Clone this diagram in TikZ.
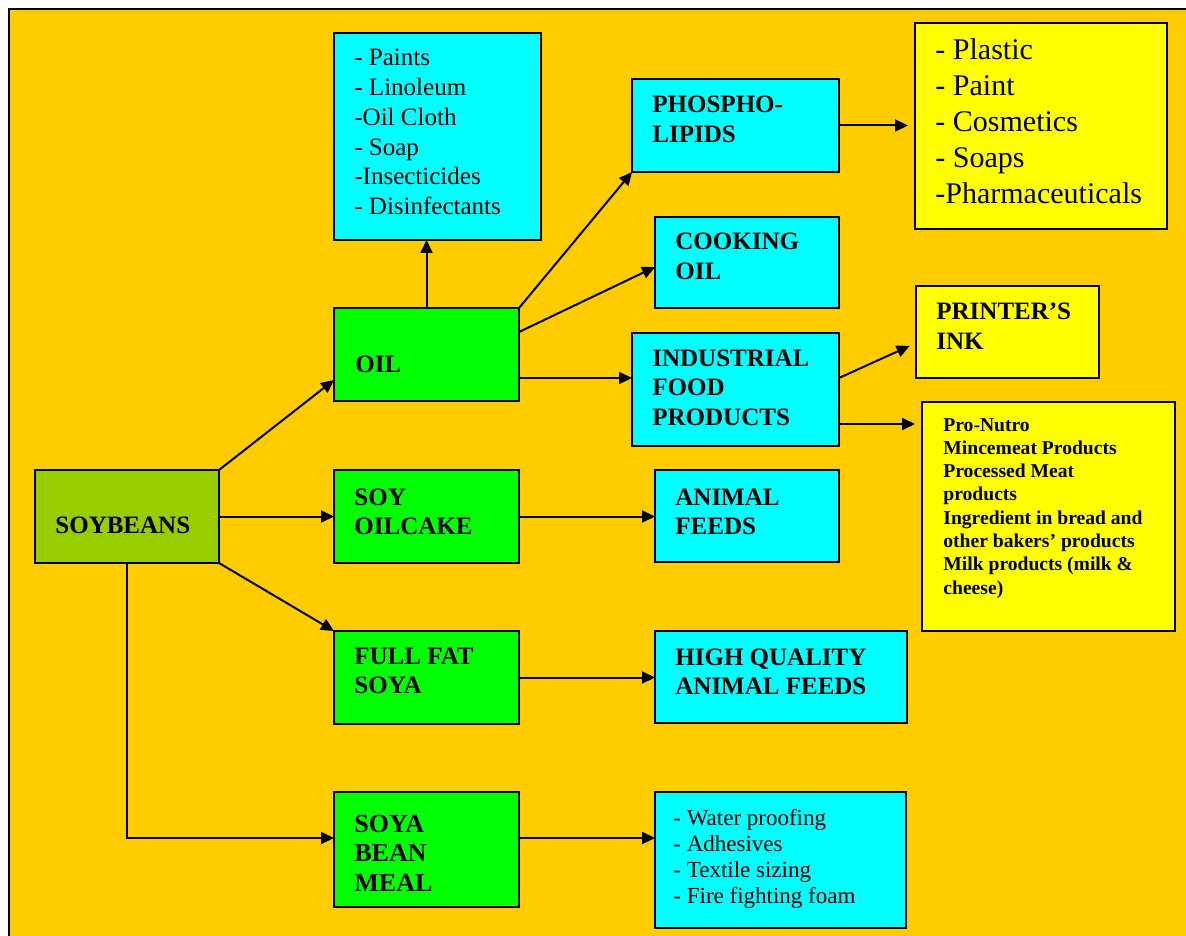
\documentclass[tikz,border=0pt]{standalone}
\usepackage{fontspec}
\setmainfont{Liberation Serif}
\usetikzlibrary{arrows.meta,calc}
\definecolor{orangebg}{HTML}{FFCC00}
\definecolor{boxgreen}{HTML}{00FF00}
\definecolor{boxcyan}{HTML}{00FFFF}
\definecolor{boxyellow}{HTML}{FFFF00}
\definecolor{boxolive}{HTML}{99CC00}
\begin{document}
\begin{tikzpicture}[x=0.5pt,y=-0.5pt,
  box/.style={draw=black,line width=1pt,anchor=north west,inner sep=0pt,outer sep=0pt},
  gbox/.style={box,fill=boxgreen},
  cbox/.style={box,fill=boxcyan},
  ybox/.style={box,fill=boxyellow},
  obox/.style={box,fill=boxolive},
  lbl/.style={anchor=base west,align=left,inner sep=0pt,font=\fontsize{12.5}{14.85}\selectfont\bfseries},
  txt/.style={anchor=base west,align=left,inner sep=0pt,font=\fontsize{12.5}{14.85}\selectfont},
  arr/.style={line width=1pt,-{Triangle[length=6.5pt,width=6pt]}},
  gap/.style={shorten >=3.5pt}
]
\useasboundingbox (0,0) rectangle (1186,935);
\clip (0,0) rectangle (1186,935);
\fill[white] (0,0) rectangle (1186,935);
\fill[orangebg] (9,9) rectangle (1200,950);
\draw[line width=1pt] (9,950) -- (9,9) -- (1200,9);

% boxes
\node[obox,minimum width=92pt,minimum height=46.5pt] (soy) at (35,470) {};
\node[gbox,minimum width=92.5pt,minimum height=46.5pt] (oil) at (334,308) {};
\node[gbox,minimum width=92.5pt,minimum height=46.5pt] (cake) at (334,470) {};
\node[gbox,minimum width=92.5pt,minimum height=46.5pt] (fat) at (334,631) {};
\node[gbox,minimum width=92.5pt,minimum height=57.5pt] (meal) at (334,792) {};
\node[cbox,minimum width=103.5pt,minimum height=103.5pt] (paints) at (334,33) {};
\node[cbox,minimum width=103.5pt,minimum height=46.5pt] (phos) at (632,79) {};
\node[cbox,minimum width=92pt,minimum height=45.5pt] (cook) at (655,217) {};
\node[cbox,minimum width=103.5pt,minimum height=56.5pt] (ind) at (632,333) {};
\node[cbox,minimum width=92pt,minimum height=46pt] (feed) at (655,470) {};
\node[cbox,minimum width=126pt,minimum height=46pt] (hq) at (655,631) {};
\node[cbox,minimum width=125.5pt,minimum height=68pt] (water) at (655,792) {};
\node[ybox,minimum width=126pt,minimum height=103pt] (plastic) at (915,23) {};
\node[ybox,minimum width=91.5pt,minimum height=46pt] (ink) at (916,286) {};
\node[ybox,minimum width=126.5pt,minimum height=114.5pt] (pro) at (922,402) {};

% labels (anchored at the baseline of their last line)
\node[lbl] (tsoy) at (55,533) {SOYBEANS};
\node[lbl] (toil) at (355,372) {OIL};
\node[lbl] (tcake) at (354,534.7) {SOY\\OILCAKE};
\node[lbl] (tfat) at (354,693.7) {FULL FAT\\SOYA};
\node[lbl,font=\fontsize{13}{14.75}\selectfont\bfseries] (tmeal) at (354,891) {SOYA\\BEAN\\MEAL};
\node[txt] (tpaints) at (354,214.5) {- Paints\\- Linoleum\\-Oil Cloth\\- Soap\\-Insecticides\\- Disinfectants};
\node[lbl] (tphos) at (652,142.7) {PHOSPHO-\\LIPIDS};
\node[lbl] (tcook) at (675,279.7) {COOKING\\OIL};
\node[lbl] (tind) at (652,425.4) {INDUSTRIAL\\FOOD\\PRODUCTS};
\node[lbl] (tfeed) at (675,534.7) {ANIMAL\\FEEDS};
\node[lbl] (thq) at (675,694.7) {HIGH QUALITY\\ANIMAL FEEDS};
\node[txt,font=\fontsize{11.5}{13.15}\selectfont] (twater) at (673,903.9) {- Water proofing\\- Adhesives\\- Textile sizing\\- Fire fighting foam};
\node[txt,font=\fontsize{15}{17.9}\selectfont] (tplastic) at (935,203.2) {- Plastic\\- Paint\\- Cosmetics\\- Soaps\\-Pharmaceuticals};
\node[lbl] (tink) at (936,349.7) {PRINTER’S\\INK};
\node[lbl,font=\fontsize{9.8}{11.65}\selectfont\bfseries] (tpro) at (943,594.1) {Pro-Nutro\\Mincemeat Products\\Processed Meat\\products\\Ingredient in bread and\\other bakers’ products\\Milk products (milk \&\\cheese)};

% connectors
\draw[arr] (soy.north east) -- ([yshift=-12.75pt]oil.west);
\draw[arr] (soy.east) -- (cake.west);
\draw[arr] (soy.south east) -- (fat.north west);
\draw[arr] (soy.south) |- ([yshift=5.75pt]meal.west);
\draw[arr] (oil.north) -- (oil.north |- paints.south);
\draw[arr] (oil.north east) -- (phos.south west);
\draw[arr] ([yshift=11.25pt]oil.east) -- ([yshift=-2.25pt]cook.west);
\draw[arr] ([yshift=-11.75pt]oil.east) coordinate (o3) -- (ind.west |- o3);
\draw[arr] (cake.east) -- (cake.east -| feed.west);
\draw[arr] (fat.east) -- (fat.east -| hq.west);
\draw[arr] ([yshift=5.75pt]meal.east) coordinate (m1) -- (water.west |- m1);
\draw[arr,gap] (phos.east) -- (phos.east -| plastic.west);
\draw[arr,gap] ([yshift=5.75pt]ind.east) -- ([yshift=-5.5pt]ink.west);
\draw[arr,gap] ([yshift=-17.25pt]ind.east) coordinate (i2) -- (pro.west |- i2);
\end{tikzpicture}
\end{document}
